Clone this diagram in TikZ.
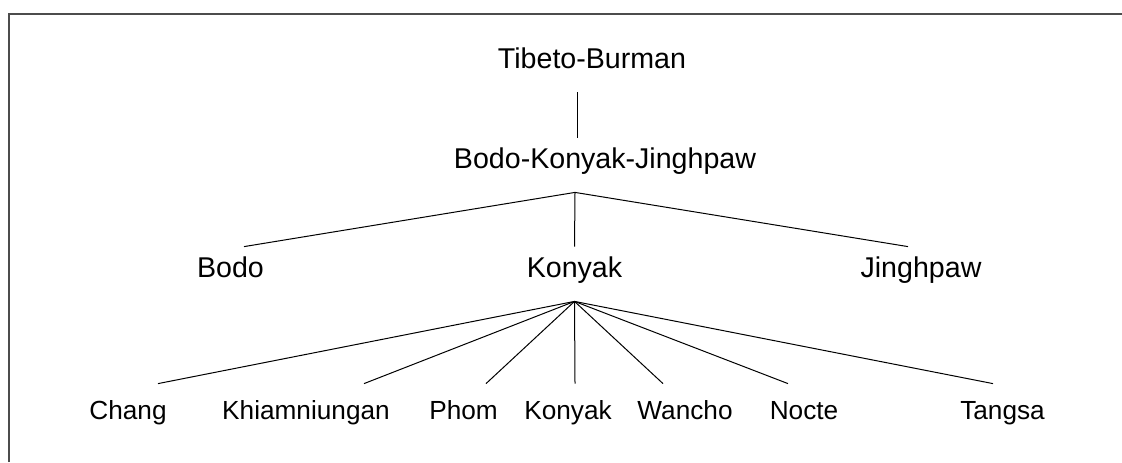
\documentclass[tikz,border=0pt]{standalone}
\usepackage{fontspec}
\setmainfont{Liberation Sans}
\usetikzlibrary{positioning, calc}
\tikzset{x=0.5pt, y=-0.5pt, % one unit is one pixel of the reference
        lang/.style={ % Sets the properties for the upper levels
            font=\fontsize{14.3}{16}\selectfont,
            anchor=base,
            inner sep=0pt,
            text height=15pt,
            text depth=12pt},
        leaf/.style={ % Sets the properties for the lowest level
            font=\fontsize{13.1}{15}\selectfont,
            anchor=base,
            inner sep=0pt,
            text height=17.5pt,
            text depth=10pt},
        every edge/.style={ % Sets the properties for each branch
            draw,
            line width=0.5pt}
        }

\begin{document}
\begin{tikzpicture}
    \useasboundingbox (0,0) rectangle (1122,462);
    \draw[line width=1pt, black!70] (9,462) -- (9,14) -- (1122,14);

    \node[lang]  (tb)   at (592,68)    {Tibeto-Burman};
    \node[lang]  (bkj)  at (605,168)   {Bodo-Konyak-Jinghpaw};
    \node[lang]  (bodo) at (230.5,277) {Bodo};
    \node[lang]  (kon)  at (574.5,277) {Konyak};
    \node[lang]  (jing) at (921,277)   {Jinghpaw};

    \node[leaf]  (chang)  at (128,419)   {Chang};
    \node[leaf]  (khiam)  at (306,419)   {Khiamniungan};
    \node[leaf]  (phom)   at (463.5,419) {Phom};
    \node[leaf]  (konyak) at (568,419)   {Konyak};
    \node[leaf]  (wancho) at (685,419)   {Wancho};
    \node[leaf]  (nocte)  at (804,419)   {Nocte};
    \node[leaf]  (tangsa) at (1002.5,419) {Tangsa};

    \draw ([xshift=-7.5pt]tb.south) edge ([xshift=-14pt]bkj.north);

    \draw ([xshift=-15pt]bkj.south) edge ([xshift=6.75pt]bodo.north);
    \draw ([xshift=-15pt]bkj.south) edge (kon.north);
    \draw ([xshift=-15pt]bkj.south) edge ([xshift=-6.5pt]jing.north);

    \draw (kon.south) edge ([xshift=15pt]chang.north);
    \draw (kon.south) edge ([xshift=29pt]khiam.north);
    \draw (kon.south) edge ([xshift=11.25pt]phom.north);
    \draw (kon.south) edge ([xshift=3.5pt]konyak.north);
    \draw (kon.south) edge ([xshift=-11pt]wancho.north);
    \draw (kon.south) edge ([xshift=-8pt]nocte.north);
    \draw (kon.south) edge ([xshift=-4.75pt]tangsa.north);
\end{tikzpicture}
\end{document}
